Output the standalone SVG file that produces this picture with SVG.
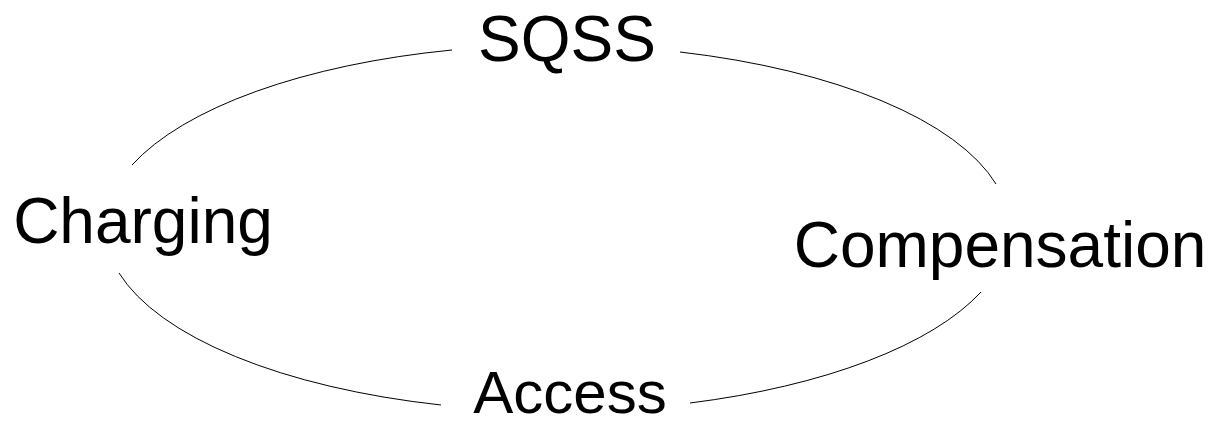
<svg xmlns="http://www.w3.org/2000/svg" width="1213" height="426" viewBox="0 0 1213 426">
<style>
.lbl{font-family:"Liberation Sans",Arial,sans-serif;font-size:64px;fill:#000;text-anchor:middle}
.arc{fill:none;stroke:#000;stroke-width:1}
</style>
<rect width="1213" height="426" fill="#fff"/>
<g id="connectors">
<path class="arc" d="M132,165 A455,183 0 0 1 452,50"/>
<path class="arc" d="M680,52 A455,183 0 0 1 996,184"/>
<path class="arc" d="M981,292 A455,183 0 0 1 690,403"/>
<path class="arc" d="M441,405 A455,183 0 0 1 119,273"/>
</g>
<g id="sqss"><text class="lbl" x="567" y="61">SQSS</text></g>
<g id="charging"><text class="lbl" x="143" y="243">Charging</text></g>
<g id="compensation"><text class="lbl" x="1000" y="267">Compensation</text></g>
<g id="access"><text class="lbl" x="570" y="413" style="font-size:60px">Access</text></g>
</svg>
